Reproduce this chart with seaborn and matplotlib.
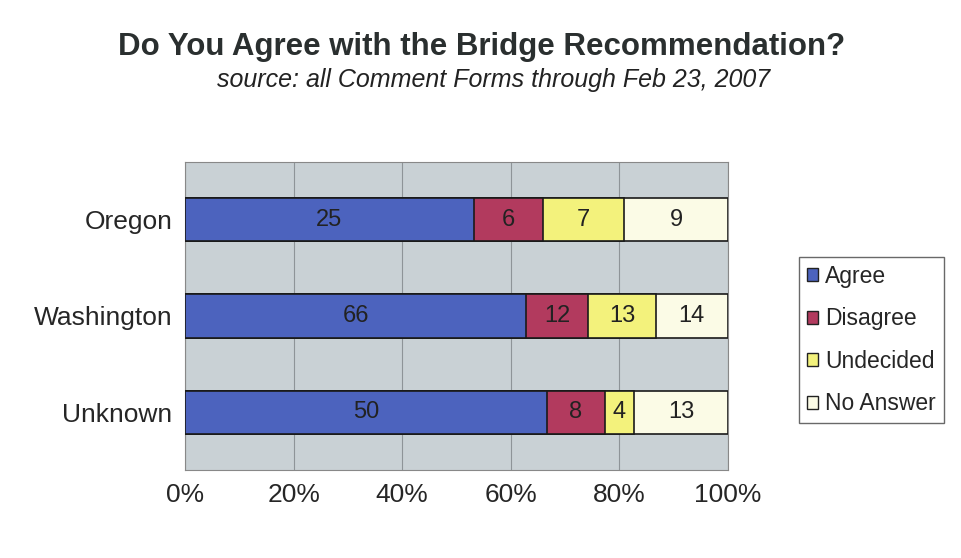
import numpy as np
import pandas as pd
import matplotlib
matplotlib.use("Agg")
import matplotlib.pyplot as plt
import seaborn as sns

categories = ["Oregon", "Washington", "Unknown"]
series = ["Agree", "Disagree", "Undecided", "No Answer"]
agree = [25, 66, 50]
disagree = [6, 12, 8]
undecided = [7, 13, 4]
no_answer = [9, 14, 13]
xticklabels = ["0%", "20%", "40%", "60%", "80%", "100%"]

colors = ["#4C63BE", "#B23A5E", "#F3F27C", "#FBFBE6"]

sns.set_theme(style="white")
plt.rcParams["font.family"] = ["Liberation Sans", "DejaVu Sans"]

counts = np.array([agree, disagree, undecided, no_answer], dtype=float)
totals = counts.sum(axis=0)
pct = counts / totals * 100
cum = np.cumsum(pct, axis=0)

fig = plt.figure(figsize=(9.62, 5.58), dpi=100)
ax = fig.add_axes([185 / 962, 1 - 470 / 558, (728 - 185) / 962, (470 - 162) / 558])
ax.set_facecolor("#C9D1D5")

for i in range(3, -1, -1):
    df = pd.DataFrame({"cat": categories, "val": cum[i]})
    sns.barplot(data=df, y="cat", x="val", orient="h", color=colors[i],
                width=0.45, edgecolor="#1A1A1A", linewidth=1.2, ax=ax,
                saturation=1, zorder=3)

for j, cat in enumerate(categories):
    for i in range(4):
        center = cum[i][j] - pct[i][j] / 2
        ax.text(center, j, f"{int(counts[i][j])}", ha="center", va="center",
                fontsize=17, color="#222222", zorder=5)

ax.set_xlim(0, 100)
ax.set_ylim(2.6, -0.6)
ax.set_xticks([0, 20, 40, 60, 80, 100])
ax.set_xticklabels(xticklabels, fontsize=19)
ax.tick_params(axis="y", labelsize=19, pad=3)
ax.tick_params(axis="x", pad=3)
ax.set_xlabel("")
ax.set_ylabel("")
ax.xaxis.grid(True, color="#8E9498", linewidth=0.8, zorder=0)
ax.set_axisbelow(True)
for s in ax.spines.values():
    s.set_color("#888888")
    s.set_linewidth(0.8)

handles = [plt.Rectangle((0, 0), 1, 1, facecolor=c, edgecolor="#222222", linewidth=1) for c in colors]
leg = fig.legend(handles, series, loc="center left", bbox_to_anchor=(799 / 962, 1 - 340 / 558),
                 fontsize=16.5, frameon=True, handlelength=0.5, handleheight=0.5,
                 handletextpad=0.3, labelspacing=0.85, borderpad=0.35, borderaxespad=0,
                 fancybox=False)
leg.get_frame().set_edgecolor("#444444")
leg.get_frame().set_linewidth(1)

fig.text(482 / 962, 1 - 47 / 558, "Do You Agree with the Bridge Recommendation?", ha="center",
         va="center", fontsize=22.5, fontweight="bold", color="#2A2F2F")
fig.text(494 / 962, 1 - 80 / 558, "source: all Comment Forms through Feb 23, 2007", ha="center",
         va="center", fontsize=18, style="italic", color="#222222")

fig.savefig("out.png", dpi=100)
